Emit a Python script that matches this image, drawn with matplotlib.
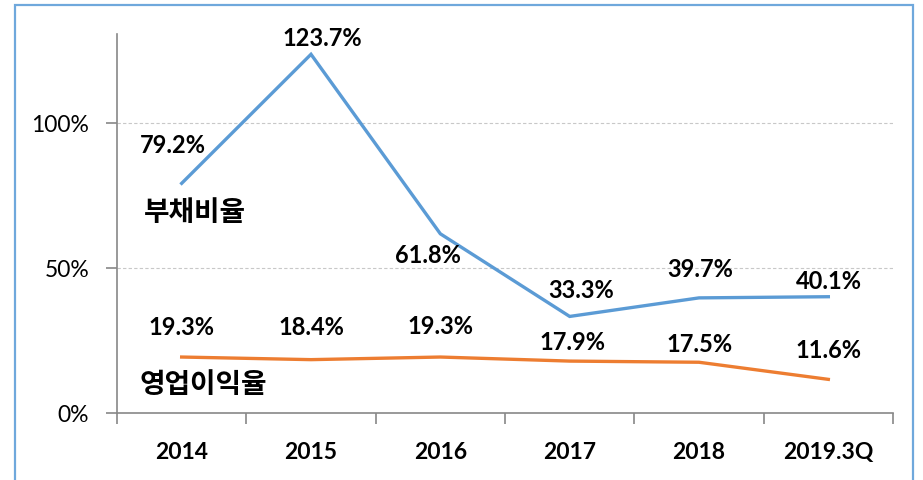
import matplotlib
matplotlib.use("Agg")
import matplotlib.pyplot as plt
from matplotlib.patches import Rectangle
from matplotlib.ticker import FixedLocator, FuncFormatter

categories = ["2014", "2015", "2016", "2017", "2018", "2019.3Q"]
debt_ratio = [79.2, 123.7, 61.8, 33.3, 39.7, 40.1]
op_margin = [19.3, 18.4, 19.3, 17.9, 17.5, 11.6]
debt_name = "부채비율"
margin_name = "영업이익율"

blue = "#5B9BD5"
orange = "#ED7D31"
num_font = "Lato"

fig = plt.figure(figsize=(9.23, 4.8), dpi=100)
fig.patch.set_facecolor("white")
fig.patches.append(Rectangle((15/923, -0.1), (913-15)/923, 1.1 - 5/480,
                             transform=fig.transFigure, fill=False,
                             edgecolor="#6FA8DC", linewidth=1.6, zorder=0))

ax = fig.add_axes([117/923, 1-413/480, (893-117)/923, (413-34)/480])
x = list(range(len(categories)))
ax.plot(x, debt_ratio, color=blue, lw=2.4, solid_joinstyle="miter")
ax.plot(x, op_margin, color=orange, lw=2.4, solid_joinstyle="miter")

ax.set_xlim(-0.5, len(categories) - 0.5)
ax.set_ylim(0, 130.7)

ax.yaxis.set_major_locator(FixedLocator([0, 50, 100]))
ax.yaxis.set_major_formatter(FuncFormatter(lambda v, p: f"{v:.0f}%"))
ax.set_xticks(x)
ax.set_xticklabels(categories)
ax.set_xticks([i - 0.5 for i in range(len(categories) + 1)], minor=True)
ax.tick_params(axis="x", which="major", length=0, pad=21)
ax.tick_params(axis="x", which="minor", length=8, width=1.2, color="#888888", direction="out")
ax.tick_params(axis="y", length=8, width=1.2, color="#888888", direction="out", pad=12)

for lab in ax.get_xticklabels():
    lab.set_fontfamily(num_font)
    lab.set_fontweight("bold")
    lab.set_fontsize(16.5)
for lab in ax.get_yticklabels():
    lab.set_fontfamily(num_font)
    lab.set_fontsize(16.5)

for s in ["top", "right"]:
    ax.spines[s].set_visible(False)
for s in ["left", "bottom"]:
    ax.spines[s].set_color("#888888")
    ax.spines[s].set_linewidth(1.2)

for yv in [50, 100]:
    ax.axhline(yv, color="#C8C8C8", lw=0.8, ls=(0, (3, 2)), zorder=0)

debt_off = [(-9, 38), (11, 16), (-12, -22), (11, 26), (1, 28), (1, 15)]
margin_off = [(0, 30), (0, 32), (0, 31), (3, 19), (1, 18), (0, 29)]
for i, v in enumerate(debt_ratio):
    ax.annotate(f"{v:.1f}%", (i, v), xytext=debt_off[i], textcoords="offset pixels",
                ha="center", va="center", fontsize=17, fontweight="bold", family=num_font)
for i, v in enumerate(op_margin):
    ax.annotate(f"{v:.1f}%", (i, v), xytext=margin_off[i], textcoords="offset pixels",
                ha="center", va="center", fontsize=17, fontweight="bold", family=num_font)

ax.text(0.105, 69, debt_name, ha="center", va="center", fontsize=20,
        fontweight="bold", family=["Noto Sans CJK KR", "DejaVu Sans"])
ax.text(0.165, 9.7, margin_name, ha="center", va="center", fontsize=20,
        fontweight="bold", family=["Noto Sans CJK KR", "DejaVu Sans"])

fig.savefig("out.png", dpi=100)
